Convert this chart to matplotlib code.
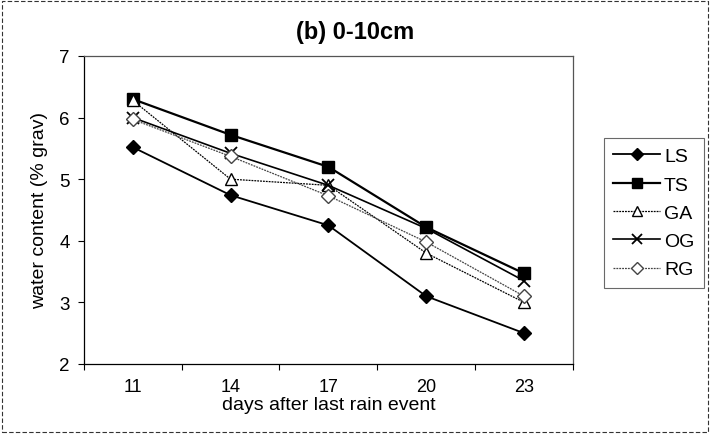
import matplotlib
matplotlib.use("Agg")
import matplotlib.pyplot as plt
from matplotlib.patches import Rectangle

days = ["11", "14", "17", "20", "23"]
LS = [5.52, 4.74, 4.25, 3.10, 2.50]
TS = [6.30, 5.72, 5.20, 4.22, 3.47]
GA = [6.28, 5.00, 4.90, 3.80, 3.00]
OG = [6.00, 5.42, 4.90, 4.20, 3.35]
RG = [5.97, 5.37, 4.73, 3.98, 3.10]

plt.rcParams['font.family'] = ['Liberation Sans', 'DejaVu Sans']

fig = plt.figure(figsize=(7.1, 4.35), dpi=100)
ax = fig.add_axes([0.118, 0.161, 0.689, 0.708])
x = list(range(len(days)))

ax.plot(x, LS, color='black', lw=1.3, marker='D', ms=7, mfc='black', mec='black', label='LS')
ax.plot(x, TS, color='black', lw=1.6, marker='s', ms=9, mfc='black', mec='black', label='TS')
ax.plot(x, GA, color='black', lw=0.9, ls=(0, (1.5, 0.8)), marker='^', ms=9, mfc='white', mec='black', label='GA')
ax.plot(x, OG, color='black', lw=1.2, marker='x', ms=9, mew=1.3, label='OG')
ax.plot(x, RG, color='#444444', lw=0.9, ls=(0, (1.5, 0.8)), marker='D', ms=7, mfc='white', mec='#444444', label='RG')

ax.set_xlim(-0.5, len(days) - 0.5)
ax.set_ylim(2, 7)
ax.set_xticks([i - 0.5 for i in range(len(days) + 1)])
ax.set_xticklabels([])
ax.set_xticks(x, minor=True)
ax.set_xticklabels(days, minor=True, fontsize=13)
ax.tick_params(axis='x', which='minor', length=0, pad=10)
ax.tick_params(axis='x', which='major', length=4, direction='out')
ax.set_yticks([2, 3, 4, 5, 6, 7])
ax.tick_params(axis='y', labelsize=13.5, length=4, direction='out', pad=6)
for s in ax.spines.values():
    s.set_color('#555555')
    s.set_linewidth(0.9)
ax.spines['left'].set_color('black')
ax.spines['bottom'].set_color('black')

ax.set_xlabel('days after last rain event', fontsize=14, labelpad=1)
ax.set_ylabel('water content (% grav)', fontsize=14, labelpad=8)
fig.text(0.5, 0.925, '(b) 0-10cm', fontsize=17, fontweight='bold', ha='center', va='center')

leg = fig.legend(loc='center', bbox_to_anchor=(0.845, 0.287, 0.152, 0.442),
                 fontsize=14, frameon=True, fancybox=False, edgecolor='#444444',
                 handlelength=2.4, labelspacing=0.55, borderpad=0.5, handletextpad=0.2,
                 markerscale=0.85)
leg.get_frame().set_linewidth(0.8)

fig.patches.append(Rectangle((0.003, 0.005), 0.994, 0.99, transform=fig.transFigure,
                             fill=False, ec='#333333', lw=0.8, ls=(0, (4, 2))))

fig.savefig('out.png', dpi=100)
